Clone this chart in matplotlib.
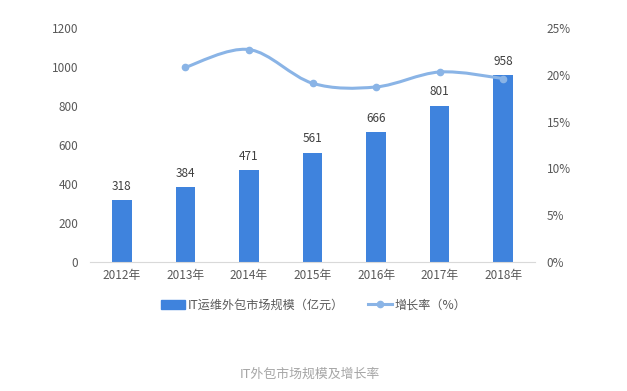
import numpy as np
import matplotlib
matplotlib.use("Agg")
import matplotlib.pyplot as plt
from matplotlib.path import Path
from matplotlib.patches import PathPatch
from matplotlib.lines import Line2D
from matplotlib.patches import Patch

plt.rcParams['font.family'] = ['Noto Sans CJK SC', 'DejaVu Sans']

years = ['2012年', '2013年', '2014年', '2015年', '2016年', '2017年', '2018年']
scale = [318, 384, 471, 561, 666, 801, 958]
growth_years = [1, 2, 3, 4, 5, 6]
growth = [20.8, 22.7, 19.1, 18.7, 20.3, 19.6]

bar_color = '#3F83DD'
line_color = '#8AB4E6'
text_gray = '#595959'

fig = plt.figure(figsize=(6.27, 3.91), dpi=100)
ax = fig.add_axes([90/627, 1-262/391, 445/627, 234/391])
x = np.arange(len(years))
ax.bar(x, scale, width=0.31, color=bar_color, zorder=2)
for xi, v in zip(x, scale):
    ax.text(xi, v + 38, str(v), ha='center', va='bottom', fontsize=8.5, color='#404040')
ax.set_xlim(-0.5, len(years) - 0.5)
ax.set_ylim(0, 1200)
ax.set_yticks(range(0, 1201, 200))
ax.set_xticks(x)
ax.set_xticklabels(years)
for s in ['top', 'right', 'left']:
    ax.spines[s].set_visible(False)
ax.spines['bottom'].set_color('#D9D9D9')
ax.tick_params(axis='both', length=0, labelsize=8.5, colors=text_gray)
ax.tick_params(axis='y', pad=8.5)
ax.tick_params(axis='x', pad=5)

ax2 = ax.twinx()
ax2.set_ylim(0, 25)
ax2.set_yticks(range(0, 26, 5))
ax2.set_yticklabels([f'{t}%' for t in range(0, 26, 5)])
for s in ax2.spines.values():
    s.set_visible(False)
ax2.tick_params(axis='y', length=0, labelsize=8.5, colors=text_gray, pad=8.5)

# smooth curve (Catmull-Rom as cubic Bezier segments)
px = np.array(growth_years, dtype=float)
py = np.array(growth, dtype=float)
verts = [(px[0], py[0])]
codes = [Path.MOVETO]
n = len(px)
for i in range(n - 1):
    p0 = (px[max(i - 1, 0)], py[max(i - 1, 0)])
    p1 = (px[i], py[i])
    p2 = (px[i + 1], py[i + 1])
    p3 = (px[min(i + 2, n - 1)], py[min(i + 2, n - 1)])
    c1 = (p1[0] + (p2[0] - p0[0]) / 6, p1[1] + (p2[1] - p0[1]) / 6)
    c2 = (p2[0] - (p3[0] - p1[0]) / 6, p2[1] - (p3[1] - p1[1]) / 6)
    verts += [c1, c2, p2]
    codes += [Path.CURVE4] * 3
ax2.add_patch(PathPatch(Path(verts, codes), fill=False, edgecolor=line_color, lw=2.2, zorder=3))
ax2.plot(px, py, 'o', color=line_color, ms=4.5, zorder=4)

handles = [Patch(color=bar_color), Line2D([], [], color=line_color, lw=2.2, marker='o', ms=4.5)]
fig.legend(handles, ['IT运维外包市场规模（亿元）', '增长率（%）'], loc='center',
           bbox_to_anchor=(314/627, 1-305/391), ncol=2, frameon=False, fontsize=8.7,
           labelcolor=text_gray, handlelength=2.0, handletextpad=0.2, columnspacing=2.0)

fig.text(310/627, 1-374/391, 'IT外包市场规模及增长率', ha='center', va='center',
         fontsize=9.3, color='#A6A6A6')

fig.savefig('out.png', dpi=100, facecolor='white')
